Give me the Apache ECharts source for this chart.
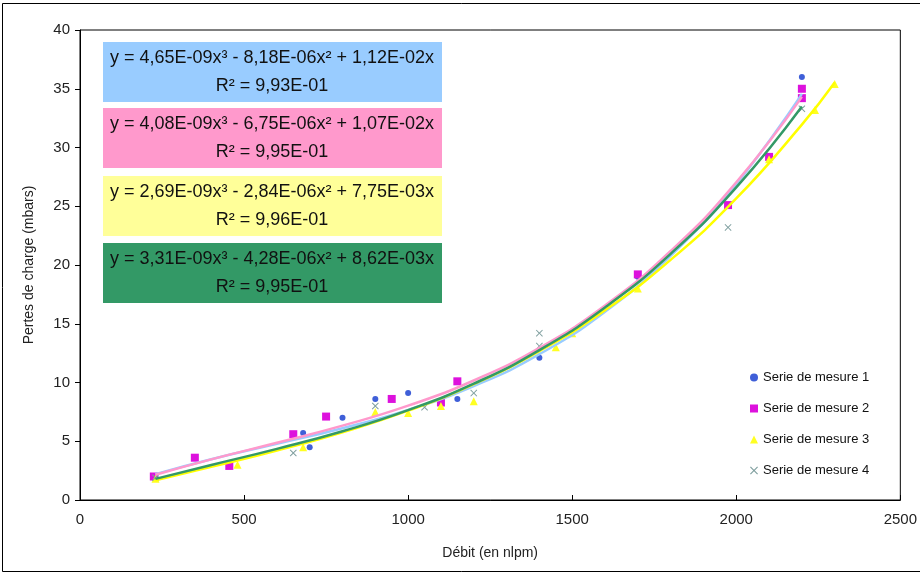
<!DOCTYPE html>
<html>
<head>
<meta charset="utf-8">
<script src="https://cdn.jsdelivr.net/npm/echarts@6/dist/echarts.min.js"></script>
<style>html,body{margin:0;padding:0;background:#fff}#c{width:920px;height:574px}</style>
</head>
<body>
<div id="c"></div>
<script>
// ---- data ----
const seriesNames = ['Serie de mesure 1','Serie de mesure 2','Serie de mesure 3','Serie de mesure 4'];
const xTicks = [0,500,1000,1500,2000,2500];
const yTicks = [0,5,10,15,20,25,30,35,40];

const mesure1 = [[230,2.0],[680,5.7],[700,4.5],[800,7.0],[900,8.6],[1000,9.1],[1150,8.6],[1400,12.1],[1700,19.0],[2100,29.0],[2200,36.0]];
const mesure2 = [[225,2.0],[350,3.6],[455,2.9],[650,5.6],[750,7.1],[950,8.6],[1100,8.3],[1150,10.1],[1700,19.2],[1975,25.1],[2100,29.2],[2200,35.0],[2200,34.2]];
const mesure3 = [[230,1.8],[480,3.0],[680,4.5],[900,7.5],[1000,7.4],[1100,8.0],[1200,8.4],[1450,13.0],[1500,14.2],[1700,18.0],[2100,29.0],[2240,33.2],[2300,35.4]];
const mesure4 = [[230,1.9],[650,4.0],[900,8.0],[1050,7.9],[1200,9.1],[1400,14.2],[1400,13.1],[1975,23.2],[2200,33.3]];

// trend curves
const trend1 = [[230,2.2],[400,3.47],[600,4.78],[800,6.11],[1000,7.67],[1200,9.70],[1400,12.41],[1600,16.03],[1800,20.78],[2000,26.88],[2200,34.56]];
const trend2 = [[230,2.15],[400,3.46],[600,4.87],[800,6.33],[1000,8.03],[1200,10.17],[1400,12.95],[1600,16.55],[1800,21.19],[2000,27.04],[2200,34.31]];
const trend3 = [[230,1.67],[400,2.82],[600,4.21],[800,5.76],[1000,7.60],[1200,9.86],[1400,12.67],[1600,16.15],[1800,20.44],[2000,25.66],[2200,31.95],[2300,35.53]];
const trend4 = [[230,1.80],[400,2.98],[600,4.35],[800,5.85],[1000,7.65],[1200,9.90],[1400,12.76],[1600,16.39],[1800,20.95],[2000,26.60],[2200,33.49]];

const eqLine1 = ['y = 4,65E-09x³ - 8,18E-06x² + 1,12E-02x','y = 4,08E-09x³ - 6,75E-06x² + 1,07E-02x','y = 2,69E-09x³ - 2,84E-06x² + 7,75E-03x','y = 3,31E-09x³ - 4,28E-06x² + 8,62E-03x'];
const eqLine2 = ['R² = 9,93E-01','R² = 9,95E-01','R² = 9,96E-01','R² = 9,95E-01'];

// ---- styles ----
const markColors = ['#3f5fd8','#dd11dd','#ffff22','#7f9f9f'];
const trendColors = ['#99ccff','#ff99cc','#ffff00','#339966'];
const boxColors = ['#99ccff','#ff99cc','#ffff99','#339966'];
const boxY = [42,108,176,243];
const crossPath = 'path://M0,1 L1,0 L5,4 L9,0 L10,1 L6,5 L10,9 L9,10 L5,6 L1,10 L0,9 L4,5 Z';
const symbols = ['circle','rect','triangle',crossPath];
const symbolSizes = [6,8,8,7];

const chart = echarts.init(document.getElementById('c'));
const FONT = 'Liberation Sans, Arial, sans-serif';

const series = [];
[trend1,trend2,trend3,trend4].forEach((t,i)=>{
  series.push({type:'line', name:'trend'+(i+1), data:t, smooth:true, showSymbol:false,
    lineStyle:{color:trendColors[i], width:2.5}, z:3, silent:true});
});
[mesure1,mesure2,mesure3,mesure4].forEach((d,i)=>{
  series.push({type:'scatter', name:seriesNames[i], data:d, symbol:symbols[i], symbolSize:symbolSizes[i],
    itemStyle:{color:markColors[i], opacity:1}, z:2});
});

const graphics = [
  {type:'rect', shape:{x:2.5,y:3.5,width:960,height:568}, style:{fill:'none', stroke:'#000', lineWidth:1}, silent:true}
];
boxColors.forEach((c,i)=>{
  graphics.push({type:'rect', shape:{x:103,y:boxY[i],width:339,height:60}, style:{fill:c}, z:10});
  graphics.push({type:'text', x:272, y:boxY[i]+16, style:{text:eqLine1[i], font:'18px '+FONT, fill:'#111', align:'center', verticalAlign:'middle'}, z:11});
  graphics.push({type:'text', x:272, y:boxY[i]+44, style:{text:eqLine2[i], font:'18px '+FONT, fill:'#111', align:'center', verticalAlign:'middle'}, z:11});
});

chart.setOption({
  animation:false,
  backgroundColor:'#fff',
  textStyle:{fontFamily:FONT},
  grid:{left:80, top:30, right:9, bottom:74, show:true, borderColor:'#000', borderWidth:1, backgroundColor:'transparent'},
  xAxis:{type:'value', min:xTicks[0], max:xTicks[xTicks.length-1], interval:500,
    name:'Débit (en nlpm)', nameLocation:'middle', nameGap:46, nameTextStyle:{fontSize:14, color:'#222'},
    axisLine:{lineStyle:{color:'#000'}}, axisTick:{inside:true, length:5, lineStyle:{color:'#000'}},
    axisLabel:{fontSize:15, color:'#222', margin:12, formatter:v=>String(v)}, splitLine:{show:false}},
  yAxis:{type:'value', min:yTicks[0], max:yTicks[yTicks.length-1], interval:5,
    name:'Pertes de charge (mbars)', nameLocation:'middle', nameGap:44, nameTextStyle:{fontSize:14, color:'#222'},
    axisLine:{show:true, lineStyle:{color:'#000'}}, axisTick:{show:true, length:5, lineStyle:{color:'#000'}},
    axisLabel:{fontSize:15, color:'#222', margin:10, formatter:v=>String(v)}, splitLine:{show:false}},
  legend:{orient:'vertical', left:745, top:366, itemGap:18, itemWidth:8, itemHeight:8,
    textStyle:{fontSize:13, color:'#111'},
    data:seriesNames.map((n,i)=>({name:n, icon:symbols[i]}))},
  graphic:graphics,
  series:series
});
</script>
</body>
</html>
